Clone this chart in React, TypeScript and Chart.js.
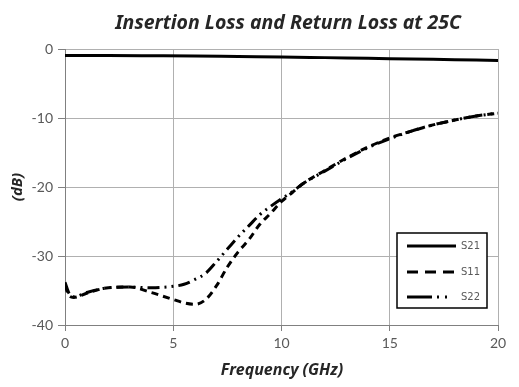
import React, { useEffect, useRef } from "react";
import { Chart, registerables } from "chart.js";

Chart.register(...registerables);

// S21 insertion loss
const s21Freq = [0, 2, 4, 6, 8, 10, 12, 14, 16, 18, 20];
const s21Db = [-0.95, -0.95, -0.97, -1.0, -1.08, -1.15, -1.25, -1.35, -1.45, -1.55, -1.65];

// S11 return loss
const s11Freq = [0, 0.2, 0.4, 1, 2, 3, 4, 4.5, 5, 5.5, 6, 6.5, 7, 7.5, 8, 8.5, 9, 9.5, 10, 10.5, 11, 12, 13, 14, 15, 16, 17, 18, 19, 20];
const s11Db = [-34.3, -35.8, -36.0, -35.4, -34.6, -34.5, -35.3, -35.8, -36.3, -36.8, -37.0, -36.3, -34.3, -31.6, -29.4, -27.6, -25.4, -23.8, -22.1, -20.8, -19.5, -17.6, -15.8, -14.2, -12.9, -11.9, -11.0, -10.3, -9.7, -9.3];

// S22 return loss
const s22Freq = [0, 0.2, 0.4, 1, 2, 3, 4, 5, 5.5, 6, 6.5, 7, 7.5, 8, 8.5, 9, 9.5, 10, 10.5, 11, 12, 13, 14, 15, 16, 17, 18, 19, 20];
const s22Db = [-33.8, -35.5, -35.9, -35.3, -34.6, -34.5, -34.6, -34.4, -34.1, -33.4, -32.5, -30.8, -29.0, -27.2, -25.6, -24.0, -22.8, -21.7, -20.7, -19.5, -17.7, -15.9, -14.3, -13.0, -11.9, -11.0, -10.3, -9.7, -9.3];

const xTicks = [0, 5, 10, 15, 20];
const yTicks = [0, -10, -20, -30, -40];

const titleText = "Insertion Loss and Return Loss at 25C";
const xTitle = "Frequency (GHz)";
const yTitle = "(dB)";
const seriesNames = ["S21", "S11", "S22"];
const seriesDash: number[][] = [[], [7, 5], [12, 5, 2, 5, 2, 5]];
const legendDash: number[][] = [[], [11, 7], [25, 5, 2, 6, 2, 30]];

const pts = (xs: number[], ys: number[]) => xs.map((x, i) => ({ x, y: ys[i] }));

const decorPlugin = {
  id: "decor",
  afterDraw(chart: any) {
    const { ctx, chartArea } = chart;
    const ca = chartArea;
    ctx.save();
    // title
    ctx.fillStyle = "#262626";
    ctx.font = "italic bold 19.5px 'Noto Sans'";
    ctx.textAlign = "center";
    ctx.textBaseline = "middle";
    ctx.fillText(titleText, 288, 23);
    // x axis title
    ctx.font = "italic bold 16px 'Noto Sans'";
    ctx.fillText(xTitle, 282, 370);
    // y axis title
    ctx.save();
    ctx.font = "italic bold 15px 'Noto Sans'";
    ctx.translate(18, (ca.top + ca.bottom) / 2);
    ctx.rotate(-Math.PI / 2);
    ctx.fillText(yTitle, 0, 0);
    ctx.restore();

    // legend box
    const bx = 397, by = 233, bw = 90, bh = 75;
    ctx.fillStyle = "#ffffff";
    ctx.fillRect(bx, by, bw, bh);
    ctx.strokeStyle = "#000000";
    ctx.lineWidth = 1.5;
    ctx.strokeRect(bx, by, bw, bh);
    const rows = [246, 272, 297];
    ctx.font = "10px 'DejaVu Sans'";
    ctx.textAlign = "left";
    for (let i = 0; i < 3; i++) {
      ctx.beginPath();
      ctx.setLineDash(legendDash[i]);
      ctx.lineWidth = 3;
      ctx.strokeStyle = "#000000";
      ctx.moveTo(407, rows[i]);
      ctx.lineTo(456, rows[i]);
      ctx.stroke();
      ctx.setLineDash([]);
      ctx.fillStyle = "#595959";
      ctx.fillText(seriesNames[i], 461, rows[i]);
    }
    ctx.restore();
  },
};

export default function App() {
  const ref = useRef<HTMLCanvasElement | null>(null);
  useEffect(() => {
    document.body.style.margin = "0";
    const canvas = ref.current!;
    const mk = (label: string, data: any, dash: number[]) => ({
      label,
      data,
      borderColor: "#000000",
      borderWidth: 3,
      borderDash: dash,
      pointRadius: 0,
      fill: false,
      tension: 0.4,
      cubicInterpolationMode: "monotone" as const,
    });
    const chart = new Chart(canvas, {
      type: "line",
      data: {
        datasets: [
          mk("S21", pts(s21Freq, s21Db), seriesDash[0]),
          mk("S11", pts(s11Freq, s11Db), seriesDash[1]),
          mk("S22", pts(s22Freq, s22Db), seriesDash[2]),
        ],
      },
      options: {
        animation: false,
        responsive: false,
        layout: { padding: { top: 49, right: 21, left: 0, bottom: 0 } },
        plugins: { legend: { display: false }, tooltip: { enabled: false }, title: { display: false } },
        scales: {
          x: {
            type: "linear",
            min: 0,
            max: 20,
            afterFit: (s: any) => { s.height = 62; },
            afterBuildTicks: (s: any) => { s.ticks = xTicks.map((v) => ({ value: v })); },
            grid: { color: "#b0b0b0", tickLength: 6, tickColor: "#808080" },
            border: { color: "#808080" },
            ticks: { color: "#595959", font: { family: "Lato", size: 14 }, padding: 4, maxRotation: 0 },
          },
          y: {
            type: "linear",
            min: -40,
            max: 0,
            afterFit: (s: any) => { s.width = 65; },
            afterBuildTicks: (s: any) => { s.ticks = yTicks.map((v) => ({ value: v })); },
            grid: { color: "#b0b0b0", tickLength: 7, tickColor: "#808080" },
            border: { color: "#808080" },
            ticks: { color: "#595959", font: { family: "Lato", size: 14 }, padding: 5 },
          },
        },
      },
      plugins: [decorPlugin],
    });
    return () => chart.destroy();
  }, []);
  return (
    <div style={{ position: "fixed", left: 0, top: 0, width: 519, height: 387, background: "#fff" }}>
      <canvas ref={ref} width={519} height={387} />
    </div>
  );
}
